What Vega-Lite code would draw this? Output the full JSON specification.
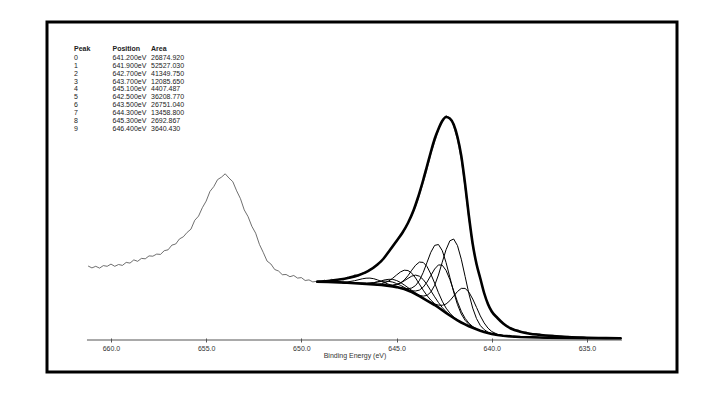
{
  "$schema": "https://vega.github.io/schema/vega-lite/v6.json",
  "width": 630,
  "height": 350,
  "autosize": {"type": "none"},
  "padding": {"left": 47, "top": 22, "right": 43, "bottom": 21},
  "background": "white",
  "config": {
    "view": {"stroke": "#000000", "strokeWidth": 3},
    "text": {"font": "Liberation Sans Narrow, Liberation Sans", "fontSize": 7, "color": "#222222"}
  },
  "datasets": {
    "raw": [
      {"e":661.2,"v":74.0},{"e":661.0,"v":72.1},{"e":660.8,"v":73.7},{"e":660.6,"v":71.9},{"e":660.4,"v":74.4},{"e":660.2,"v":73.7},{"e":660.0,"v":75.9},{"e":659.8,"v":73.7},{"e":659.6,"v":75.5},{"e":659.4,"v":74.6},
      {"e":659.2,"v":77.6},{"e":659.0,"v":76.9},{"e":658.8,"v":80.1},{"e":658.6,"v":78.7},{"e":658.4,"v":81.6},{"e":658.2,"v":81.2},{"e":658.0,"v":84.1},{"e":657.8,"v":83.8},{"e":657.6,"v":85.9},{"e":657.4,"v":85.6},
      {"e":657.2,"v":89.3},{"e":657.0,"v":90.2},{"e":656.8,"v":94.9},{"e":656.6,"v":96.0},{"e":656.4,"v":101.1},{"e":656.2,"v":103.2},{"e":656.0,"v":107.6},{"e":655.8,"v":110.8},{"e":655.6,"v":119.7},{"e":655.4,"v":123.9},
      {"e":655.2,"v":132.3},{"e":655.0,"v":138.9},{"e":654.8,"v":148.6},{"e":654.6,"v":153.4},{"e":654.4,"v":160.4},{"e":654.2,"v":162.8},{"e":654.0,"v":166.2},{"e":653.8,"v":161.9},{"e":653.6,"v":158.3},{"e":653.4,"v":149.2},
      {"e":653.2,"v":141.4},{"e":653.0,"v":130.1},{"e":652.8,"v":123.4},{"e":652.6,"v":113.7},{"e":652.4,"v":106.8},{"e":652.2,"v":95.5},{"e":652.0,"v":87.5},{"e":651.8,"v":78.9},{"e":651.6,"v":76.0},{"e":651.4,"v":70.5},
      {"e":651.2,"v":69.0},{"e":651.0,"v":65.3},{"e":650.8,"v":65.5},{"e":650.6,"v":63.3},{"e":650.4,"v":64.5},{"e":650.2,"v":61.9},{"e":650.0,"v":62.4},{"e":649.8,"v":59.5},{"e":649.6,"v":60.1},{"e":649.4,"v":58.1},
      {"e":649.2,"v":58.7},{"e":649.0,"v":57.7},{"e":648.8,"v":59.9},{"e":648.6,"v":58.6},{"e":648.4,"v":60.8},{"e":648.2,"v":59.0},{"e":648.0,"v":61.1},{"e":647.8,"v":60.0},{"e":647.6,"v":62.8},{"e":647.4,"v":62.3},
      {"e":647.2,"v":65.2},{"e":647.0,"v":64.1},{"e":646.8,"v":67.0},{"e":646.6,"v":66.8},{"e":646.4,"v":71.1},{"e":646.2,"v":71.9},{"e":646.0,"v":76.4},{"e":645.8,"v":77.7},{"e":645.6,"v":84.2},{"e":645.4,"v":87.6},
      {"e":645.2,"v":95.1},{"e":645.0,"v":98.0},{"e":644.8,"v":105.7},{"e":644.6,"v":109.2},{"e":644.4,"v":117.5},{"e":644.2,"v":124.1},{"e":644.0,"v":133.5},{"e":643.8,"v":144.5},{"e":643.6,"v":157.2},{"e":643.4,"v":170.6},
      {"e":643.2,"v":185.7},{"e":643.0,"v":198.0},{"e":642.8,"v":209.8},{"e":642.6,"v":219.8},{"e":642.4,"v":224.5},{"e":642.2,"v":221.8},{"e":642.0,"v":213.9},{"e":641.8,"v":200.2},{"e":641.6,"v":180.5},{"e":641.4,"v":152.0},
      {"e":641.2,"v":120.8},{"e":641.0,"v":94.0},{"e":640.8,"v":74.8},{"e":640.6,"v":62.4},{"e":640.4,"v":46.2},{"e":640.2,"v":37.0},{"e":640.0,"v":27.9},{"e":639.8,"v":24.9},{"e":639.6,"v":19.6},{"e":639.4,"v":17.5},
      {"e":639.2,"v":13.2},{"e":639.0,"v":12.4},{"e":638.8,"v":10.6},{"e":638.6,"v":10.0},{"e":638.4,"v":8.2},{"e":638.2,"v":8.1},{"e":638.0,"v":6.6},{"e":637.6,"v":6.4},{"e":637.2,"v":4.8},{"e":636.8,"v":4.9},
      {"e":636.4,"v":3.3},{"e":636.0,"v":3.7},{"e":635.6,"v":2.4},{"e":635.2,"v":3.0},{"e":634.8,"v":2.0},{"e":634.4,"v":2.5},{"e":634.0,"v":1.8},{"e":633.6,"v":2.2},{"e":633.2,"v":1.7}
    ],
    "envelope": [
      {"e":649.2,"v":58.3},{"e":648.6,"v":59.0},{"e":648.0,"v":60.5},{"e":647.5,"v":62.3},{"e":647.0,"v":64.8},{"e":646.5,"v":68.8},{"e":646.0,"v":75.5},{"e":645.7,"v":81.0},{"e":645.4,"v":88.5},{"e":645.0,"v":99.0},
      {"e":644.7,"v":107.0},{"e":644.4,"v":117.0},{"e":644.1,"v":130.0},{"e":643.9,"v":141.0},{"e":643.6,"v":160.0},{"e":643.4,"v":174.0},{"e":643.2,"v":188.0},{"e":643.0,"v":201.0},{"e":642.8,"v":211.0},{"e":642.6,"v":219.0},
      {"e":642.4,"v":223.0},{"e":642.2,"v":221.5},{"e":642.0,"v":215.5},{"e":641.8,"v":203.0},{"e":641.6,"v":184.0},{"e":641.4,"v":156.0},{"e":641.2,"v":124.0},{"e":641.0,"v":96.0},{"e":640.8,"v":76.0},{"e":640.6,"v":61.5},
      {"e":640.4,"v":47.0},{"e":640.2,"v":36.0},{"e":640.0,"v":28.5},{"e":639.7,"v":22.0},{"e":639.4,"v":16.5},{"e":639.0,"v":11.5},{"e":638.5,"v":8.2},{"e":638.0,"v":6.3},{"e":637.5,"v":5.2},{"e":637.0,"v":4.2},
      {"e":636.0,"v":3.0},{"e":635.0,"v":2.3},{"e":634.0,"v":1.9},{"e":633.2,"v":1.7}
    ],
    "fit": [
      {"e":649.2,"bg":58.3,"c0":58.3,"c1":58.3,"c2":58.3,"c3":58.3,"c4":58.3,"c5":58.3,"c6":58.3,"c7":58.3,"c8":58.3,"c9":58.3},
      {"e":648.6,"bg":58.0,"c0":58.0,"c1":58.0,"c2":58.0,"c3":58.0,"c4":58.0,"c5":58.0,"c6":58.0,"c7":58.0,"c8":58.0,"c9":58.0},
      {"e":648.0,"bg":57.6,"c0":57.6,"c1":57.6,"c2":57.6,"c3":57.6,"c4":57.6,"c5":57.6,"c6":57.6,"c7":57.6,"c8":57.6,"c9":57.8},
      {"e":647.6,"bg":57.2,"c0":57.2,"c1":57.2,"c2":57.2,"c3":57.2,"c4":57.2,"c5":57.2,"c6":57.2,"c7":57.2,"c8":57.2,"c9":58.0},
      {"e":647.2,"bg":56.8,"c0":56.8,"c1":56.8,"c2":56.8,"c3":56.8,"c4":56.8,"c5":56.8,"c6":56.8,"c7":56.8,"c8":56.8,"c9":59.3},
      {"e":646.8,"bg":56.4,"c0":56.4,"c1":56.4,"c2":56.4,"c3":56.4,"c4":56.6,"c5":56.4,"c6":56.4,"c7":56.4,"c8":56.7,"c9":61.2},
      {"e":646.6,"bg":56.1,"c0":56.1,"c1":56.1,"c2":56.1,"c3":56.1,"c4":56.6,"c5":56.1,"c6":56.1,"c7":56.1,"c8":56.7,"c9":61.8},
      {"e":646.4,"bg":55.9,"c0":55.9,"c1":55.9,"c2":55.9,"c3":55.9,"c4":56.8,"c5":55.9,"c6":55.9,"c7":56.0,"c8":57.0,"c9":61.9},
      {"e":646.2,"bg":55.6,"c0":55.6,"c1":55.6,"c2":55.6,"c3":55.6,"c4":57.3,"c5":55.6,"c6":55.6,"c7":55.8,"c8":57.4,"c9":61.3},
      {"e":646.0,"bg":55.3,"c0":55.3,"c1":55.3,"c2":55.3,"c3":55.3,"c4":58.2,"c5":55.3,"c6":55.3,"c7":55.9,"c8":58.0,"c9":60.1},
      {"e":645.8,"bg":55.0,"c0":55.0,"c1":55.0,"c2":55.0,"c3":55.1,"c4":59.2,"c5":55.0,"c6":55.0,"c7":56.3,"c8":58.6,"c9":58.6},
      {"e":645.6,"bg":54.6,"c0":54.6,"c1":54.6,"c2":54.6,"c3":54.8,"c4":60.2,"c5":54.6,"c6":54.7,"c7":57.3,"c8":58.9,"c9":57.1},
      {"e":645.4,"bg":54.1,"c0":54.1,"c1":54.1,"c2":54.1,"c3":54.7,"c4":60.7,"c5":54.1,"c6":54.5,"c7":59.1,"c8":58.6,"c9":55.6},
      {"e":645.2,"bg":53.6,"c0":53.6,"c1":53.6,"c2":53.6,"c3":54.9,"c4":60.6,"c5":53.6,"c6":54.6,"c7":61.8,"c8":57.9,"c9":54.4},
      {"e":645.0,"bg":52.9,"c0":52.9,"c1":52.9,"c2":53.0,"c3":55.6,"c4":59.5,"c5":52.9,"c6":55.3,"c7":65.0,"c8":56.5,"c9":53.3},
      {"e":644.8,"bg":52.0,"c0":52.0,"c1":52.0,"c2":52.2,"c3":57.0,"c4":57.6,"c5":52.1,"c6":56.9,"c7":68.0,"c8":54.7,"c9":52.2},
      {"e":644.6,"bg":50.9,"c0":50.9,"c1":50.9,"c2":51.6,"c3":59.1,"c4":55.1,"c5":51.1,"c6":59.9,"c7":69.8,"c8":52.7,"c9":51.0},
      {"e":644.4,"bg":49.5,"c0":49.5,"c1":49.5,"c2":51.3,"c3":61.6,"c4":52.4,"c5":50.0,"c6":64.3,"c7":69.5,"c8":50.6,"c9":49.5},
      {"e":644.2,"bg":47.9,"c0":47.9,"c1":48.0,"c2":52.0,"c3":63.9,"c4":49.6,"c5":49.2,"c6":69.8,"c7":66.8,"c8":48.5,"c9":47.9},
      {"e":644.0,"bg":46.0,"c0":46.0,"c1":46.3,"c2":54.5,"c3":64.9,"c4":46.9,"c5":49.0,"c6":74.8,"c7":62.0,"c8":46.3,"c9":46.0},
      {"e":643.8,"bg":43.8,"c0":43.8,"c1":44.7,"c2":59.5,"c3":63.8,"c4":44.3,"c5":49.9,"c6":77.9,"c7":55.9,"c8":43.9,"c9":43.8},
      {"e":643.6,"bg":41.6,"c0":41.6,"c1":43.9,"c2":67.5,"c3":60.5,"c4":41.8,"c5":52.8,"c6":77.6,"c7":49.8,"c8":41.6,"c9":41.6},
      {"e":643.4,"bg":39.4,"c0":39.5,"c1":44.6,"c2":77.6,"c3":55.4,"c4":39.5,"c5":57.9,"c6":73.5,"c7":44.4,"c8":39.4,"c9":39.4},
      {"e":643.2,"bg":37.2,"c0":37.6,"c1":47.9,"c2":87.7,"c3":49.3,"c4":37.2,"c5":64.5,"c6":66.0,"c7":39.9,"c8":37.2,"c9":37.2},
      {"e":643.0,"bg":35.0,"c0":36.0,"c1":54.7,"c2":94.6,"c3":43.2,"c4":35.0,"c5":71.0,"c6":56.9,"c7":36.3,"c8":35.0,"c9":35.0},
      {"e":642.8,"bg":32.5,"c0":34.9,"c1":65.0,"c2":95.5,"c3":37.5,"c4":32.5,"c5":75.1,"c6":47.3,"c7":33.1,"c8":32.5,"c9":32.5},
      {"e":642.6,"bg":29.8,"c0":34.7,"c1":77.8,"c2":89.4,"c3":32.5,"c4":29.8,"c5":74.8,"c6":38.8,"c7":30.0,"c8":29.8,"c9":29.8},
      {"e":642.4,"bg":27.0,"c0":36.0,"c1":90.3,"c2":77.5,"c3":28.3,"c4":27.0,"c5":69.6,"c6":31.9,"c7":27.1,"c8":27.0,"c9":27.0},
      {"e":642.2,"bg":24.5,"c0":39.3,"c1":99.2,"c2":62.7,"c3":25.1,"c4":24.5,"c5":60.5,"c6":26.9,"c7":24.5,"c8":24.5,"c9":24.5},
      {"e":642.0,"bg":22.0,"c0":43.9,"c1":101.0,"c2":47.9,"c3":22.2,"c4":22.0,"c5":49.3,"c6":23.0,"c7":22.0,"c8":22.0,"c9":22.0},
      {"e":641.8,"bg":19.7,"c0":48.5,"c1":94.4,"c2":35.4,"c3":19.8,"c4":19.7,"c5":38.2,"c6":20.1,"c7":19.7,"c8":19.7,"c9":19.7},
      {"e":641.6,"bg":17.5,"c0":51.6,"c1":80.8,"c2":26.0,"c3":17.5,"c4":17.5,"c5":28.7,"c6":17.6,"c7":17.5,"c8":17.5,"c9":17.5},
      {"e":641.4,"bg":15.6,"c0":51.6,"c1":63.6,"c2":19.7,"c3":15.6,"c4":15.6,"c5":21.7,"c6":15.6,"c7":15.6,"c8":15.6,"c9":15.6},
      {"e":641.2,"bg":13.8,"c0":47.9,"c1":46.3,"c2":15.6,"c3":13.8,"c4":13.8,"c5":16.8,"c6":13.8,"c7":13.8,"c8":13.8,"c9":13.8},
      {"e":641.0,"bg":12.2,"c0":41.0,"c1":31.9,"c2":12.9,"c3":12.2,"c4":12.2,"c5":13.5,"c6":12.2,"c7":12.2,"c8":12.2,"c9":12.2},
      {"e":640.8,"bg":10.7,"c0":32.6,"c1":21.4,"c2":10.9,"c3":10.7,"c4":10.7,"c5":11.2,"c6":10.7,"c7":10.7,"c8":10.7,"c9":10.7},
      {"e":640.6,"bg":9.3,"c0":24.1,"c1":14.5,"c2":9.4,"c3":9.3,"c4":9.3,"c5":9.5,"c6":9.3,"c7":9.3,"c8":9.3,"c9":9.3},
      {"e":640.4,"bg":8.1,"c0":17.1,"c1":10.4,"c2":8.1,"c3":8.1,"c4":8.1,"c5":8.2,"c6":8.1,"c7":8.1,"c8":8.1,"c9":8.1},
      {"e":640.2,"bg":7.0,"c0":11.9,"c1":7.9,"c2":7.0,"c3":7.0,"c4":7.0,"c5":7.0,"c6":7.0,"c7":7.0,"c8":7.0,"c9":7.0},
      {"e":640.0,"bg":6.1,"c0":8.5,"c1":6.4,"c2":6.1,"c3":6.1,"c4":6.1,"c5":6.1,"c6":6.1,"c7":6.1,"c8":6.1,"c9":6.1},
      {"e":639.7,"bg":5.0,"c0":5.7,"c1":5.0,"c2":5.0,"c3":5.0,"c4":5.0,"c5":5.0,"c6":5.0,"c7":5.0,"c8":5.0,"c9":5.0},
      {"e":639.4,"bg":4.3,"c0":4.4,"c1":4.3,"c2":4.3,"c3":4.3,"c4":4.3,"c5":4.3,"c6":4.3,"c7":4.3,"c8":4.3,"c9":4.3},
      {"e":639.0,"bg":3.6,"c0":3.6,"c1":3.6,"c2":3.6,"c3":3.6,"c4":3.6,"c5":3.6,"c6":3.6,"c7":3.6,"c8":3.6,"c9":3.6},
      {"e":638.5,"bg":3.0,"c0":3.0,"c1":3.0,"c2":3.0,"c3":3.0,"c4":3.0,"c5":3.0,"c6":3.0,"c7":3.0,"c8":3.0,"c9":3.0},
      {"e":638.0,"bg":2.7,"c0":2.7,"c1":2.7,"c2":2.7,"c3":2.7,"c4":2.7,"c5":2.7,"c6":2.7,"c7":2.7,"c8":2.7,"c9":2.7},
      {"e":637.0,"bg":2.3,"c0":2.3,"c1":2.3,"c2":2.3,"c3":2.3,"c4":2.3,"c5":2.3,"c6":2.3,"c7":2.3,"c8":2.3,"c9":2.3},
      {"e":636.0,"bg":2.0,"c0":2.0,"c1":2.0,"c2":2.0,"c3":2.0,"c4":2.0,"c5":2.0,"c6":2.0,"c7":2.0,"c8":2.0,"c9":2.0},
      {"e":635.0,"bg":1.8,"c0":1.8,"c1":1.8,"c2":1.8,"c3":1.8,"c4":1.8,"c5":1.8,"c6":1.8,"c7":1.8,"c8":1.8,"c9":1.8},
      {"e":634.0,"bg":1.7,"c0":1.7,"c1":1.7,"c2":1.7,"c3":1.7,"c4":1.7,"c5":1.7,"c6":1.7,"c7":1.7,"c8":1.7,"c9":1.7},
      {"e":633.2,"bg":1.7,"c0":1.7,"c1":1.7,"c2":1.7,"c3":1.7,"c4":1.7,"c5":1.7,"c6":1.7,"c7":1.7,"c8":1.7,"c9":1.7}
    ],
    "axisline": [{"e1": 661.26, "e2": 633.16, "v": 0}],
    "header": [
      {"r":-1.1,"c":0,"t":"Peak"},{"r":-1.1,"c":1,"t":"Position"},{"r":-1.1,"c":2,"t":"Area"}
    ],
    "table": [
      {"r":0,"c":0,"t":"0"},{"r":0,"c":1,"t":"641.200eV"},{"r":0,"c":2,"t":"26874.920"},
      {"r":1,"c":0,"t":"1"},{"r":1,"c":1,"t":"641.900eV"},{"r":1,"c":2,"t":"52527.030"},
      {"r":2,"c":0,"t":"2"},{"r":2,"c":1,"t":"642.700eV"},{"r":2,"c":2,"t":"41349.750"},
      {"r":3,"c":0,"t":"3"},{"r":3,"c":1,"t":"643.700eV"},{"r":3,"c":2,"t":"12085.650"},
      {"r":4,"c":0,"t":"4"},{"r":4,"c":1,"t":"645.100eV"},{"r":4,"c":2,"t":"4407.487"},
      {"r":5,"c":0,"t":"5"},{"r":5,"c":1,"t":"642.500eV"},{"r":5,"c":2,"t":"36208.770"},
      {"r":6,"c":0,"t":"6"},{"r":6,"c":1,"t":"643.500eV"},{"r":6,"c":2,"t":"26751.040"},
      {"r":7,"c":0,"t":"7"},{"r":7,"c":1,"t":"644.300eV"},{"r":7,"c":2,"t":"13458.800"},
      {"r":8,"c":0,"t":"8"},{"r":8,"c":1,"t":"645.300eV"},{"r":8,"c":2,"t":"2692.867"},
      {"r":9,"c":0,"t":"9"},{"r":9,"c":1,"t":"646.400eV"},{"r":9,"c":2,"t":"3640.430"}
    ]
  },
  "layer": [
    {
      "layer": [
        {
          "data": {"name": "raw"},
          "mark": {"type": "line", "stroke": "#4a4a4a", "strokeWidth": 0.8},
          "encoding": {
            "x": {"field": "e", "type": "quantitative", "scale": {"domain": [630.27, 663.36], "reverse": true, "nice": false, "zero": false},
              "axis": {"values": [660, 655, 650, 645, 640, 635], "format": ".1f", "domain": false, "grid": false, "offset": -34, "tickSize": 4, "tickColor": "#555555", "tickWidth": 1,
                "labelFont": "Liberation Sans Narrow, Liberation Sans", "labelFontSize": 7, "labelColor": "#333333", "labelPadding": 2,
                "title": "Binding Energy (eV)", "titleFont": "Liberation Sans Narrow, Liberation Sans", "titleFontSize": 7, "titleFontWeight": "normal", "titleColor": "#333333", "titlePadding": 0, "titleX": 307.5, "titleAlign": "center"}},
            "y": {"field": "v", "type": "quantitative", "scale": {"domain": [-32, 318], "nice": false, "zero": false}, "axis": null}
          }
        },
        {
          "data": {"name": "fit"},
          "transform": [{"fold": ["c0","c1","c2","c3","c4","c5","c6","c7","c8","c9"], "as": ["comp", "val"]}],
          "mark": {"type": "line", "stroke": "#000000", "strokeWidth": 1},
          "encoding": {
            "x": {"field": "e", "type": "quantitative"},
            "y": {"field": "val", "type": "quantitative"},
            "detail": {"field": "comp", "type": "nominal"}
          }
        },
        {
          "data": {"name": "fit"},
          "mark": {"type": "line", "stroke": "#000000", "strokeWidth": 2.6},
          "encoding": {
            "x": {"field": "e", "type": "quantitative"},
            "y": {"field": "bg", "type": "quantitative"}
          }
        },
        {
          "data": {"name": "envelope"},
          "mark": {"type": "line", "stroke": "#000000", "strokeWidth": 2.6, "interpolate": "monotone"},
          "encoding": {
            "x": {"field": "e", "type": "quantitative"},
            "y": {"field": "v", "type": "quantitative"}
          }
        },
        {
          "data": {"name": "axisline"},
          "mark": {"type": "rule", "stroke": "#555555", "strokeWidth": 1},
          "encoding": {
            "x": {"field": "e1", "type": "quantitative"},
            "x2": {"field": "e2"},
            "y": {"field": "v", "type": "quantitative"}
          }
        }
      ]
    },
    {
      "layer": [
        {
          "data": {"name": "header"},
          "mark": {"type": "text", "align": "left", "baseline": "middle", "fontWeight": "bold"},
          "encoding": {
            "x": {"field": "c", "type": "quantitative", "scale": {"domain": [-0.701, 15.662], "nice": false, "zero": false}, "axis": null},
            "y": {"field": "r", "type": "quantitative", "scale": {"domain": [-4.6, 40.0], "reverse": true, "nice": false, "zero": false}, "axis": null},
            "text": {"field": "t", "type": "nominal"}
          }
        },
        {
          "data": {"name": "table"},
          "mark": {"type": "text", "align": "left", "baseline": "middle"},
          "encoding": {
            "x": {"field": "c", "type": "quantitative"},
            "y": {"field": "r", "type": "quantitative"},
            "text": {"field": "t", "type": "nominal"}
          }
        }
      ]
    }
  ],
  "resolve": {"scale": {"x": "independent", "y": "independent"}}
}
